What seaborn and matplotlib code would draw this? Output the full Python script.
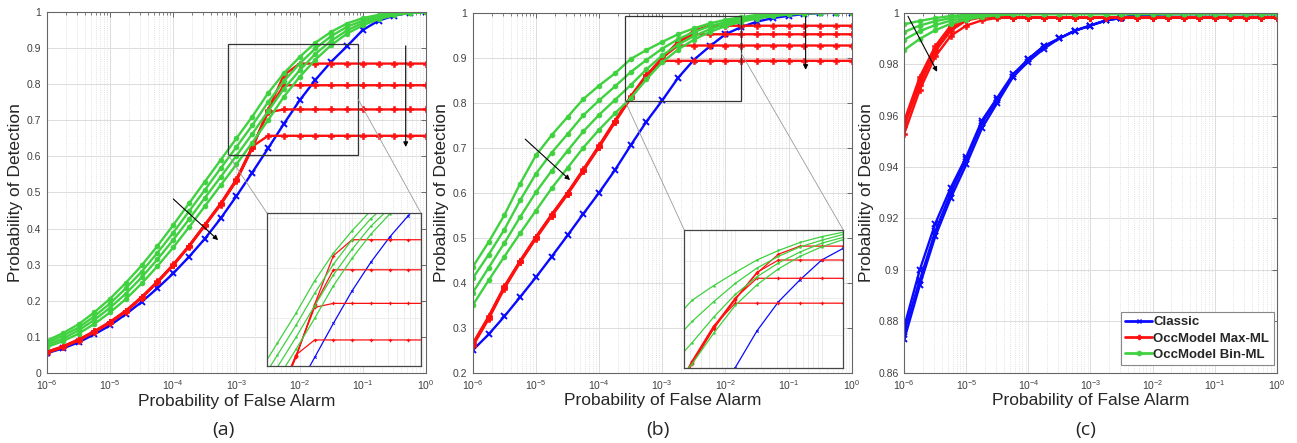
import matplotlib
matplotlib.use('agg')
from matplotlib import pyplot as plt
from matplotlib.lines import Line2D
from matplotlib.patches import Rectangle, ConnectionPatch
from matplotlib.ticker import FuncFormatter, LogLocator, NullFormatter
import numpy as np
import pandas as pd
import seaborn as sns

# log10 of the false alarm probability, shared by every curve
pfa_exp = [-6.0, -5.75, -5.5, -5.25, -5.0, -4.75, -4.5, -4.25, -4.0, -3.75, -3.5, -3.25, -3.0,
           -2.75, -2.5, -2.25, -2.0, -1.75, -1.5, -1.25, -1.0, -0.75, -0.5, -0.25, 0.0]

# ---- panel (a)
a_classic = [0.055, 0.068, 0.085, 0.107, 0.132, 0.163, 0.197, 0.235, 0.276, 0.322, 0.372, 0.428, 0.490,
             0.555, 0.622, 0.690, 0.755, 0.812, 0.862, 0.905, 0.950, 0.976, 0.990, 0.998, 1.000]
a_max1 = [0.059, 0.074, 0.093, 0.116, 0.142, 0.173, 0.211, 0.254, 0.301, 0.353, 0.411, 0.470, 0.537,
          0.627, 0.657, 0.657, 0.657, 0.657, 0.657, 0.657, 0.657, 0.657, 0.657, 0.657, 0.657]
a_max2 = [0.058, 0.073, 0.092, 0.115, 0.141, 0.172, 0.210, 0.253, 0.300, 0.352, 0.410, 0.468, 0.535,
          0.625, 0.722, 0.730, 0.730, 0.730, 0.730, 0.730, 0.730, 0.730, 0.730, 0.730, 0.730]
a_max3 = [0.057, 0.072, 0.091, 0.114, 0.140, 0.171, 0.209, 0.252, 0.299, 0.351, 0.409, 0.467, 0.534,
          0.624, 0.726, 0.797, 0.797, 0.797, 0.797, 0.797, 0.797, 0.797, 0.797, 0.797, 0.797]
a_max4 = [0.056, 0.071, 0.090, 0.113, 0.139, 0.170, 0.208, 0.251, 0.298, 0.350, 0.408, 0.466, 0.532,
          0.622, 0.728, 0.825, 0.857, 0.857, 0.857, 0.857, 0.857, 0.857, 0.857, 0.857, 0.857]
a_bin1 = [0.090, 0.110, 0.135, 0.168, 0.206, 0.250, 0.298, 0.352, 0.410, 0.470, 0.530, 0.590, 0.650,
          0.710, 0.775, 0.830, 0.875, 0.915, 0.945, 0.968, 0.983, 0.992, 0.997, 0.999, 1.000]
a_bin2 = [0.084, 0.103, 0.126, 0.157, 0.193, 0.235, 0.281, 0.333, 0.389, 0.448, 0.507, 0.567, 0.626,
          0.686, 0.750, 0.808, 0.857, 0.899, 0.933, 0.959, 0.976, 0.988, 0.995, 0.998, 1.000]
a_bin3 = [0.078, 0.095, 0.118, 0.147, 0.181, 0.220, 0.265, 0.315, 0.369, 0.426, 0.485, 0.543, 0.602,
          0.662, 0.725, 0.787, 0.838, 0.884, 0.920, 0.949, 0.970, 0.984, 0.993, 0.998, 1.000]
a_bin4 = [0.072, 0.088, 0.109, 0.136, 0.168, 0.205, 0.248, 0.296, 0.348, 0.404, 0.462, 0.520, 0.578,
          0.638, 0.700, 0.765, 0.820, 0.868, 0.908, 0.940, 0.963, 0.980, 0.991, 0.997, 1.000]

# ---- panel (b)
b_classic = [0.250, 0.285, 0.325, 0.368, 0.412, 0.458, 0.505, 0.553, 0.600, 0.650, 0.705, 0.758, 0.805,
             0.855, 0.895, 0.925, 0.952, 0.968, 0.980, 0.988, 0.993, 0.997, 0.999, 1.000, 1.000]
b_max1 = [0.265, 0.325, 0.392, 0.449, 0.502, 0.552, 0.600, 0.652, 0.705, 0.760, 0.814, 0.862, 0.893,
          0.893, 0.893, 0.893, 0.893, 0.893, 0.893, 0.893, 0.893, 0.893, 0.893, 0.893, 0.893]
b_max2 = [0.263, 0.323, 0.391, 0.448, 0.501, 0.551, 0.599, 0.651, 0.704, 0.759, 0.813, 0.861, 0.900,
          0.927, 0.927, 0.927, 0.927, 0.927, 0.927, 0.927, 0.927, 0.927, 0.927, 0.927, 0.927]
b_max3 = [0.261, 0.321, 0.389, 0.446, 0.499, 0.549, 0.597, 0.649, 0.702, 0.757, 0.811, 0.859, 0.899,
          0.935, 0.952, 0.952, 0.952, 0.952, 0.952, 0.952, 0.952, 0.952, 0.952, 0.952, 0.952]
b_max4 = [0.259, 0.319, 0.387, 0.445, 0.498, 0.548, 0.596, 0.648, 0.701, 0.756, 0.810, 0.858, 0.898,
          0.934, 0.960, 0.971, 0.971, 0.971, 0.971, 0.971, 0.971, 0.971, 0.971, 0.971, 0.971]
b_bin1 = [0.435, 0.490, 0.550, 0.620, 0.683, 0.728, 0.768, 0.808, 0.838, 0.865, 0.897, 0.917, 0.935,
          0.952, 0.965, 0.976, 0.984, 0.990, 0.995, 0.998, 0.999, 1.000, 1.000, 1.000, 1.000]
b_bin2 = [0.410, 0.462, 0.518, 0.583, 0.642, 0.689, 0.730, 0.772, 0.805, 0.836, 0.868, 0.895, 0.920,
          0.941, 0.957, 0.970, 0.979, 0.987, 0.992, 0.996, 0.998, 0.999, 1.000, 1.000, 1.000]
b_bin3 = [0.378, 0.433, 0.488, 0.546, 0.601, 0.649, 0.693, 0.736, 0.773, 0.806, 0.839, 0.874, 0.905,
          0.929, 0.948, 0.963, 0.975, 0.983, 0.990, 0.994, 0.997, 0.999, 1.000, 1.000, 1.000]
b_bin4 = [0.350, 0.405, 0.458, 0.510, 0.560, 0.610, 0.655, 0.700, 0.740, 0.776, 0.810, 0.852, 0.890,
          0.918, 0.940, 0.957, 0.970, 0.980, 0.987, 0.992, 0.996, 0.998, 0.999, 1.000, 1.000]

# ---- panel (c)
c_classic1 = [0.878, 0.900, 0.918, 0.932, 0.944, 0.958, 0.967, 0.976, 0.982, 0.987, 0.990, 0.993, 0.995,
              0.997, 0.998, 0.999, 0.9993, 0.9995, 0.9995, 0.9995, 0.9995, 0.9995, 0.9995, 0.9995, 0.9995]
c_classic2 = [0.873, 0.894, 0.913, 0.928, 0.941, 0.955, 0.965, 0.975, 0.981, 0.986, 0.990, 0.993, 0.995,
              0.997, 0.998, 0.999, 0.9993, 0.9995, 0.9995, 0.9995, 0.9995, 0.9995, 0.9995, 0.9995, 0.9995]
c_classic3 = [0.876, 0.896, 0.915, 0.930, 0.943, 0.957, 0.966, 0.975, 0.982, 0.987, 0.990, 0.993, 0.995,
              0.997, 0.998, 0.999, 0.9993, 0.9995, 0.9995, 0.9995, 0.9995, 0.9995, 0.9995, 0.9995, 0.9995]
c_max1 = [0.953, 0.970, 0.983, 0.991, 0.995, 0.997, 0.998, 0.998, 0.998, 0.998, 0.998, 0.998, 0.998,
          0.998, 0.998, 0.998, 0.998, 0.998, 0.998, 0.998, 0.998, 0.998, 0.998, 0.998, 0.998]
c_max2 = [0.956, 0.972, 0.985, 0.993, 0.997, 0.9982, 0.9982, 0.9982, 0.9982, 0.9982, 0.9982, 0.9982, 0.9982,
          0.9982, 0.9982, 0.9982, 0.9982, 0.9982, 0.9982, 0.9982, 0.9982, 0.9982, 0.9982, 0.9982, 0.9982]
c_max3 = [0.957, 0.974, 0.986, 0.994, 0.997, 0.9985, 0.9985, 0.998, 0.998, 0.998, 0.998, 0.998, 0.998,
          0.998, 0.998, 0.998, 0.998, 0.998, 0.998, 0.998, 0.998, 0.998, 0.998, 0.998, 0.998]
c_max4 = [0.958, 0.975, 0.987, 0.995, 0.998, 0.9995, 0.999, 0.998, 0.998, 0.998, 0.998, 0.998, 0.998,
          0.998, 0.998, 0.998, 0.998, 0.998, 0.998, 0.998, 0.998, 0.998, 0.998, 0.998, 0.998]
c_bin1 = [0.9955, 0.9968, 0.9979, 0.9987, 0.9992, 0.9994, 0.9995, 0.9995, 0.9995, 0.9995, 0.9995, 0.9995, 0.9995,
          0.9995, 0.9995, 0.9995, 0.9995, 0.9995, 0.9995, 0.9995, 0.9995, 0.9995, 0.9995, 0.9995, 0.9995]
c_bin2 = [0.9925, 0.9950, 0.9967, 0.9979, 0.9987, 0.9992, 0.9994, 0.9995, 0.9995, 0.9995, 0.9995, 0.9995, 0.9995,
          0.9995, 0.9995, 0.9995, 0.9995, 0.9995, 0.9995, 0.9995, 0.9995, 0.9995, 0.9995, 0.9995, 0.9995]
c_bin3 = [0.9895, 0.9928, 0.9952, 0.9969, 0.9980, 0.9988, 0.9992, 0.9994, 0.9995, 0.9995, 0.9995, 0.9995, 0.9995,
          0.9995, 0.9995, 0.9995, 0.9995, 0.9995, 0.9995, 0.9995, 0.9995, 0.9995, 0.9995, 0.9995, 0.9995]
c_bin4 = [0.9855, 0.9898, 0.9932, 0.9957, 0.9973, 0.9984, 0.9990, 0.9993, 0.9995, 0.9995, 0.9995, 0.9995, 0.9995,
          0.9995, 0.9995, 0.9995, 0.9995, 0.9995, 0.9995, 0.9995, 0.9995, 0.9995, 0.9995, 0.9995, 0.9995]

methods = ['Classic', 'OccModel Max-ML', 'OccModel Bin-ML']
panel_a = [a_classic], [a_max1, a_max2, a_max3, a_max4], [a_bin1, a_bin2, a_bin3, a_bin4]
panel_b = [b_classic], [b_max1, b_max2, b_max3, b_max4], [b_bin1, b_bin2, b_bin3, b_bin4]
panel_c = [c_classic1, c_classic2, c_classic3], [c_max1, c_max2, c_max3, c_max4], [c_bin1, c_bin2, c_bin3, c_bin4]

line_styles = {
    'Classic': dict(color='#0a0aff', marker='x', ms=3.8, mew=1.4),
    'OccModel Max-ML': dict(color='#ff1010', marker='P', ms=5.0, mew=0.4),
    'OccModel Bin-ML': dict(color='#3fd13f', marker='o', ms=3.6, mew=0.4),
}


def long_df(curves):
    rows = []
    for run, vals in enumerate(curves):
        for e, v in zip(pfa_exp, vals):
            rows.append([10.0 ** e, v, run])
    return pd.DataFrame(rows, columns=['pfa', 'pd', 'run'])


def draw_curves(ax, panel, lw, scale):
    ax.set_xscale('log')
    for name, curves in zip(methods, panel):
        st = line_styles[name]
        sns.lineplot(data=long_df(curves), x='pfa', y='pd', units='run', estimator=None,
                     color=st['color'], marker=st['marker'], markersize=st['ms'] * scale,
                     markeredgewidth=st['mew'] * scale, markeredgecolor=st['color'],
                     linewidth=lw, ax=ax)


def style_axes(ax, ylim, yticks):
    ax.set_xlim(1e-6, 1)
    ax.set_ylim(*ylim)
    ax.set_xticks([1e-6, 1e-5, 1e-4, 1e-3, 1e-2, 1e-1, 1e0])
    ax.xaxis.set_minor_locator(LogLocator(base=10, subs=np.arange(2, 10), numticks=20))
    ax.xaxis.set_minor_formatter(NullFormatter())
    ax.set_yticks(yticks)
    ax.yaxis.set_major_formatter(FuncFormatter(lambda v, p: '{:g}'.format(round(v, 2))))
    ax.grid(which='major', color='#dcdcdc', lw=0.7, ls='-')
    ax.grid(which='minor', axis='x', color='#d8d8d8', lw=0.6, ls=':')
    ax.set_axisbelow(True)
    ax.tick_params(which='both', direction='in', top=True, right=True, color='#555555',
                   labelsize=7.5, labelcolor='#404040', pad=4)
    ax.tick_params(which='major', length=3.5, width=0.6)
    ax.tick_params(which='minor', length=1.8, width=0.5)
    for sp in ax.spines.values():
        sp.set_color('#666666')
        sp.set_linewidth(0.8)
    ax.set_xlabel('Probability of False Alarm', fontsize=12.5, color='#262626', labelpad=1)
    ax.set_ylabel('Probability of Detection', fontsize=12.5, color='#262626', labelpad=3)


def add_zoom(fig, ax, panel, rect, xr, yr, corner_y):
    x0, x1 = 10.0 ** xr[0], 10.0 ** xr[1]
    ax.add_patch(Rectangle((x0, yr[0]), x1 - x0, yr[1] - yr[0], fill=False,
                           ec='#333333', lw=0.9, zorder=6))
    ins = fig.add_axes(rect)
    ins.set_facecolor('white')
    draw_curves(ins, panel, 0.9, 0.45)
    ins.set_xlim(x0, x1)
    ins.set_ylim(*yr)
    ins.grid(which='both', color='#e6e6e6', lw=0.5)
    ins.set_axisbelow(True)
    ins.tick_params(which='both', direction='in', labelleft=False, labelbottom=False,
                    length=2, color='#777777')
    ins.set_xlabel('')
    ins.set_ylabel('')
    for sp in ins.spines.values():
        sp.set_color('#444444')
        sp.set_linewidth(0.9)
    for xy, corner in [((x0, yr[0]), (0, 1)), ((x1, corner_y), (1, 1))]:
        con = ConnectionPatch(xyA=xy, coordsA=ax.transData, xyB=corner, coordsB=ins.transAxes,
                              color='#9a9a9a', lw=0.6)
        fig.add_artist(con)


def arrow(ax, start, end):
    ax.annotate('', xy=(10.0 ** end[0], end[1]), xytext=(10.0 ** start[0], start[1]),
                arrowprops=dict(arrowstyle='-|>', lw=0.8, color='black', mutation_scale=7,
                                shrinkA=0, shrinkB=0), zorder=7)


sns.set_style('whitegrid')
plt.rcParams['font.family'] = ['Liberation Sans', 'DejaVu Sans']
plt.rcParams['mathtext.fontset'] = 'custom'
plt.rcParams['mathtext.rm'] = 'Liberation Sans'

fig = plt.figure(figsize=(12.97, 4.43), dpi=100)
ax_a = fig.add_axes([0.0362, 0.158, 0.2922, 0.815])
ax_b = fig.add_axes([0.3645, 0.1587, 0.2922, 0.8127])
ax_c = fig.add_axes([0.6972, 0.1587, 0.2871, 0.8127])

draw_curves(ax_a, panel_a, 1.7, 1.0)
style_axes(ax_a, (0, 1), np.arange(0, 1.01, 0.1))
draw_curves(ax_b, panel_b, 1.7, 1.0)
style_axes(ax_b, (0.2, 1), np.arange(0.2, 1.01, 0.1))
draw_curves(ax_c, panel_c, 1.7, 1.0)
style_axes(ax_c, (0.86, 1), np.arange(0.86, 1.001, 0.02))

add_zoom(fig, ax_a, panel_a, [0.2059, 0.1738, 0.1187, 0.345], (-3.135, -1.08), (0.605, 0.91), 0.76)
add_zoom(fig, ax_b, panel_b, [0.5276, 0.1686, 0.1226, 0.3122], (-3.59, -1.75), (0.804, 0.993), 0.91)

arrow(ax_a, (-4.0, 0.482), (-3.29, 0.368))
arrow(ax_a, (-0.32, 0.906), (-0.32, 0.626))
arrow(ax_b, (-5.17, 0.719), (-4.46, 0.628))
arrow(ax_b, (-0.73, 0.991), (-0.73, 0.873))
arrow(ax_c, (-5.94, 0.9986), (-5.47, 0.977))

handles = [Line2D([], [], color=line_styles[m]['color'], marker=line_styles[m]['marker'],
                  ms=3.0, mew=1.0, lw=2.0) for m in methods]
leg = ax_c.legend(handles, methods, loc='lower right', bbox_to_anchor=(0.992, 0.02),
                  borderaxespad=0, fancybox=False, framealpha=1, edgecolor='#888888',
                  prop=dict(weight='bold', size=9.5), handlelength=2.0, handletextpad=0.1,
                  labelspacing=0.3, borderpad=0.35)
leg.get_frame().set_linewidth(0.8)

for x, lab in [(0.172, '(a)'), (0.507, '(b)'), (0.837, '(c)')]:
    fig.text(x, 0.03, lab, ha='center', va='center', fontsize=14, family='Open Sans')

fig.savefig('out.png', dpi=100)
